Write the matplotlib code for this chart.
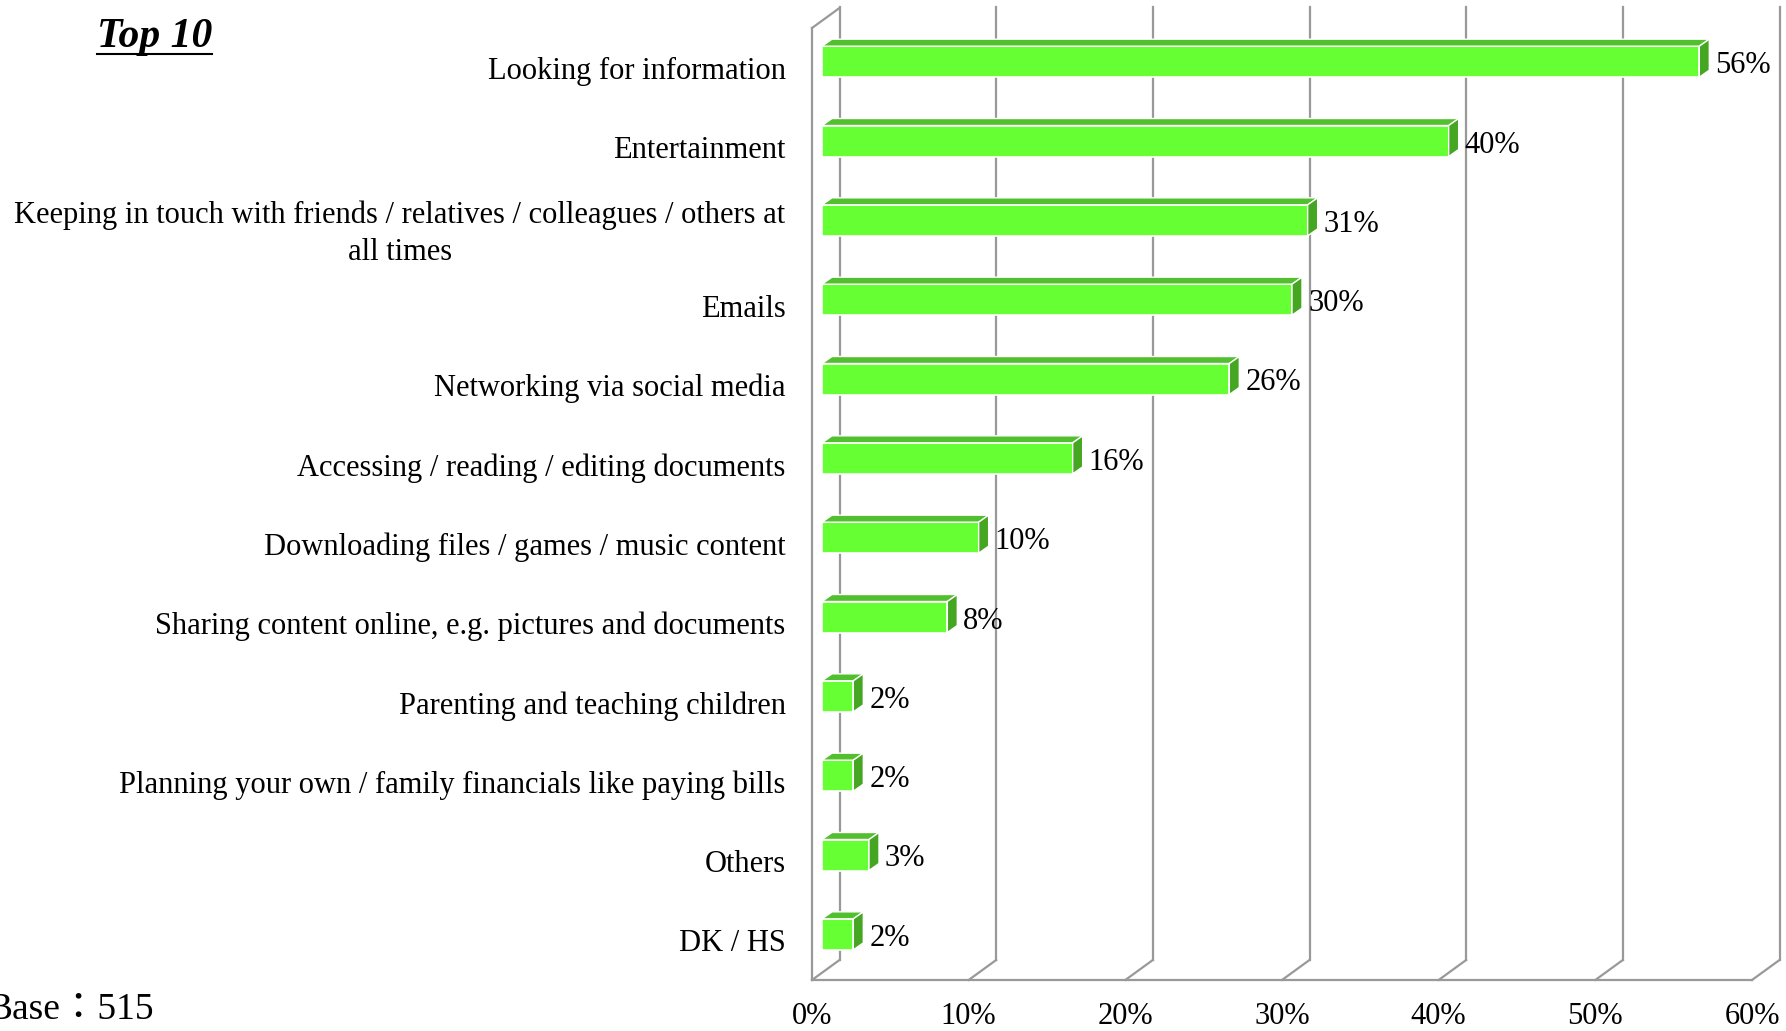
import matplotlib.pyplot as plt
from matplotlib.patches import Polygon

plt.rcParams['font.family'] = ['Liberation Serif', 'Noto Sans CJK TC']

categories = [
    'Looking for information',
    'Entertainment',
    'Keeping in touch with friends / relatives / colleagues / others at\nall times',
    'Emails',
    'Networking via social media',
    'Accessing / reading / editing documents',
    'Downloading files / games / music content',
    'Sharing content online, e.g. pictures and documents',
    'Parenting and teaching children',
    'Planning your own / family financials like paying bills',
    'Others',
    'DK / HS',
]
values = [56, 40, 31, 30, 26, 16, 10, 8, 2, 2, 3, 2]
xticks = [0, 10, 20, 30, 40, 50, 60]

W, H = 1786, 1031
fig = plt.figure(figsize=(W / 100, H / 100), dpi=100)
ax_l, ax_b, ax_w, ax_h = 812, 51, 940, 952
ax = fig.add_axes([ax_l / W, ax_b / H, ax_w / W, ax_h / H])
ax.set_xlim(0, 60)
ax.set_ylim(len(categories) - 0.5, -0.5)

# pixel -> data unit factors
sx = 60 / ax_w
sy = len(categories) / ax_h

grid_c = '#999999'
wall_dx, wall_dy = 27.5 * sx, 20 * sy
y_bot, y_top = len(categories) - 0.5, -0.5

# back wall gridlines and floor diagonals
for t in xticks:
    ax.plot([t + wall_dx, t + wall_dx], [y_bot - wall_dy, y_top - wall_dy - 1 * sy],
            color=grid_c, lw=1.6, clip_on=False, zorder=1)
    ax.plot([t, t + wall_dx], [y_bot, y_bot - wall_dy], color=grid_c, lw=1.6,
            clip_on=False, zorder=1)
# floor front edge and left wall
ax.plot([0, 60], [y_bot, y_bot], color=grid_c, lw=1.6, clip_on=False, zorder=1)
ax.plot([0, 0], [y_bot, y_top], color=grid_c, lw=1.6, clip_on=False, zorder=1)
ax.plot([0, wall_dx], [y_top, y_top - wall_dy], color=grid_c, lw=1.6,
        clip_on=False, zorder=1)

# 3d bars
front_c, top_c, side_c = '#66FF33', '#52BF2E', '#45A622'
bx, by = 10 * sx, -6 * sy
bh = 31 * sy
ddx, ddy = 10 * sx, 7 * sy
ys = [i + by for i in range(len(categories))]
ax.barh(ys, values, height=bh, left=bx, color=front_c, edgecolor='white',
        linewidth=1.2, zorder=3)
for y, v in zip(ys, values):
    top = y - bh / 2
    bot = y + bh / 2
    ax.add_patch(Polygon([(bx, top), (bx + v, top), (bx + v + ddx, top - ddy),
                          (bx + ddx, top - ddy)], closed=True, facecolor=top_c,
                         edgecolor='white', lw=1.0, zorder=3))
    ax.add_patch(Polygon([(bx + v, top), (bx + v, bot), (bx + v + ddx, bot - ddy),
                          (bx + v + ddx, top - ddy)], closed=True, facecolor=side_c,
                         edgecolor='white', lw=1.0, zorder=3))
    ax.annotate(f'{v}%', xy=(bx + v + ddx, y), xytext=(6, -4), textcoords='offset pixels',
                ha='left', va='center', fontsize=22, zorder=4, annotation_clip=False)

for s in ax.spines.values():
    s.set_visible(False)
ax.set_xticks(xticks)
ax.set_xticklabels([f'{t}%' for t in xticks], fontsize=22)
ax.set_yticks(range(len(categories)))
ax.set_yticklabels(categories, fontsize=22)
ax.tick_params(axis='x', length=0, pad=16)
ax.tick_params(axis='y', length=0, pad=19)
for lab in ax.get_yticklabels():
    lab.set_multialignment('center')
    lab.set_linespacing(1.35)

# header and base note
title = fig.text(97 / W, 1 - 37 / H, 'Top 10', fontsize=30, fontweight='bold',
                 fontstyle='italic', ha='left', va='center')
fig.text(-12 / W, 1 - 1010 / H, 'Base：515', fontsize=27, ha='left', va='center')

fig.canvas.draw()
bb = title.get_window_extent()
fig.add_artist(plt.Line2D([bb.x0 / W, bb.x1 / W], [(bb.y0 + 2) / H, (bb.y0 + 2) / H],
                          color='black', lw=1.5))

fig.savefig('out.png', dpi=100)
